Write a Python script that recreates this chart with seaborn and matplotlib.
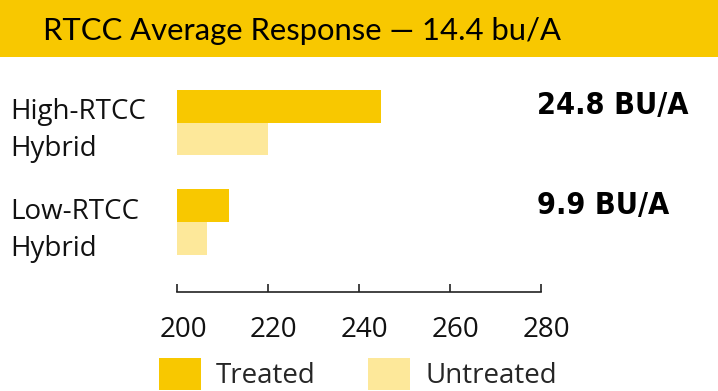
import matplotlib
matplotlib.use("Agg")
import matplotlib.pyplot as plt
from matplotlib.patches import Rectangle, Patch
from matplotlib.transforms import ScaledTranslation
import seaborn as sns
import pandas as pd

categories = ["High-RTCC\nHybrid", "Low-RTCC\nHybrid"]
conditions = ["Treated", "Untreated"]
treated = [244.8, 211.4]
untreated = [220.0, 206.6]
responses = ["24.8 BU/A", "9.9 BU/A"]
xticks = [200, 220, 240, 260, 280]
title = "RTCC Average Response \u2014 14.4 bu/A"

GOLD = "#F8C800"
PALE = "#FDE89A"

sns.set_theme(style="white")
plt.rcParams["font.family"] = ["Open Sans", "DejaVu Sans"]

df = pd.DataFrame({
    "category": categories * 2,
    "condition": [conditions[0]] * 2 + [conditions[1]] * 2,
    "value": treated + untreated,
})

W, H = 718, 391
fig = plt.figure(figsize=(W / 100, H / 100), dpi=100)
fig.patch.set_facecolor("white")

ax = fig.add_axes([177 / W, 1 - 292 / H, (540.7 - 177) / W, (292 - 72.7) / H])
sns.barplot(data=df, y="category", x="value", hue="condition", orient="h",
            palette=[GOLD, PALE], saturation=1, width=0.66, linewidth=0,
            ax=ax, legend=False)
ax.set_xlim(200, 280)
ax.set_ylim(1.7, -0.5)
ax.set_xlabel("")
ax.set_ylabel("")
for s in ["top", "right", "left"]:
    ax.spines[s].set_visible(False)
ax.spines["bottom"].set_color("#222222")
ax.spines["bottom"].set_linewidth(1.2)
ax.set_xticks(xticks)
ax.set_xticklabels([str(t) for t in xticks], fontsize=20)
ax.tick_params(axis="x", direction="in", length=6, width=1.2, color="#222222",
               pad=17, labelcolor="#111111", bottom=True)
shift = ScaledTranslation(6 / 100, 0, fig.dpi_scale_trans)
for lbl in ax.get_xticklabels():
    lbl.set_transform(lbl.get_transform() + shift)
ax.tick_params(axis="y", length=0, pad=167 * 0.72)
ax.set_yticks(range(len(categories)))
ax.set_yticklabels(categories, fontsize=20, ha="left",
                   linespacing=1.45, color="#111111")

for i, r in enumerate(responses):
    t = ax.text(1.0, i - 0.17, r, transform=ax.get_yaxis_transform(), fontsize=22,
                fontweight="bold", fontstretch="condensed", ha="left", va="center",
                color="black", family=["DejaVu Sans"])
    t.set_transform(t.get_transform() + ScaledTranslation(-4 / 100, 0, fig.dpi_scale_trans))

# title band
fig.patches.append(Rectangle((0, 1 - 57 / H), 1, 57 / H, transform=fig.transFigure,
                             facecolor=GOLD, edgecolor="none", zorder=0))
fig.text(43 / W, 1 - 31 / H, title, fontsize=22.3, va="center", ha="left",
         color="black", family=["Lato"])

handles = [Patch(facecolor=GOLD, edgecolor="none"), Patch(facecolor=PALE, edgecolor="none")]
fig.legend(handles, conditions, loc="upper left", bbox_to_anchor=(159 / W, 1 - 358 / H),
           ncol=2, frameon=False, prop={"family": "Open Sans", "size": 20},
           handlelength=1.5, handleheight=1.4, handletextpad=0.55, columnspacing=1.9,
           borderpad=0, borderaxespad=0)

fig.savefig("out.png", dpi=100)
